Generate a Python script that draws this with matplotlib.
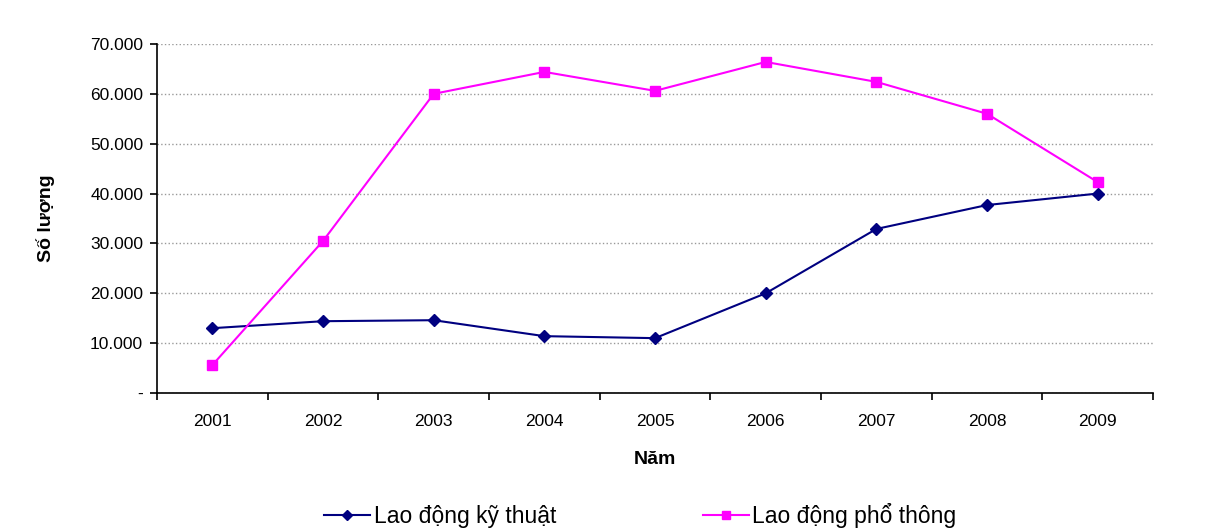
import matplotlib
matplotlib.use("Agg")
import matplotlib.pyplot as plt
from matplotlib.ticker import FuncFormatter, FixedLocator

plt.rcParams['font.family'] = ['Liberation Sans', 'DejaVu Sans']

# Données
nam = ['2001', '2002', '2003', '2004', '2005', '2006', '2007', '2008', '2009']
ky_thuat = [13000, 14400, 14600, 11400, 11000, 20000, 32900, 37700, 40000]
pho_thong = [5600, 30500, 60000, 64400, 60600, 66400, 62400, 56000, 42300]

x = list(range(1, len(nam) + 1))

fig = plt.figure(figsize=(12.08, 5.3), dpi=100)
ax = fig.add_axes([0.13, 0.2585, 0.8245, 0.6585])

ax.plot(x, ky_thuat, color='#000080', lw=1.5, marker='D', markersize=6.5,
        label='Lao động kỹ thuật')
ax.plot(x, pho_thong, color='#FF00FF', lw=1.5, marker='s', markersize=7,
        label='Lao động phổ thông')

ax.set_xlim(0.5, len(nam) + 0.5)
ax.set_ylim(0, 70000)
ax.set_yticks(range(0, 70001, 10000))

def fmt(v, pos):
    if v == 0:
        return '-'
    return f"{int(v):,}".replace(',', '.')

ax.yaxis.set_major_formatter(FuncFormatter(fmt))
ax.set_xticks(x)
ax.set_xticklabels(nam)
ax.xaxis.set_minor_locator(FixedLocator([i + 0.5 for i in range(len(nam) + 1)]))
ax.tick_params(axis='x', which='major', length=0, pad=15, labelsize=12.5)
ax.tick_params(axis='x', which='minor', length=5, width=1.2)
ax.tick_params(axis='y', length=5, width=1.2, labelsize=12.5, pad=5)

ax.grid(axis='y', color='#999999', linestyle=':', lw=1)
ax.set_axisbelow(True)
for s in ['top', 'right']:
    ax.spines[s].set_visible(False)
ax.spines['left'].set_linewidth(1.2)
ax.spines['bottom'].set_linewidth(1.2)

ax.set_xlabel('Năm', fontsize=14, fontweight='bold', labelpad=16)
ax.set_ylabel('Số lượng', fontsize=14, fontweight='bold', labelpad=25)

fig.legend(loc='center', bbox_to_anchor=(0.53, 0.028), ncol=2, frameon=False,
           fontsize=16.5, handlelength=2.0, handletextpad=0.15, columnspacing=6.4,
           markerscale=0.8)

fig.savefig('out.png', dpi=100)
